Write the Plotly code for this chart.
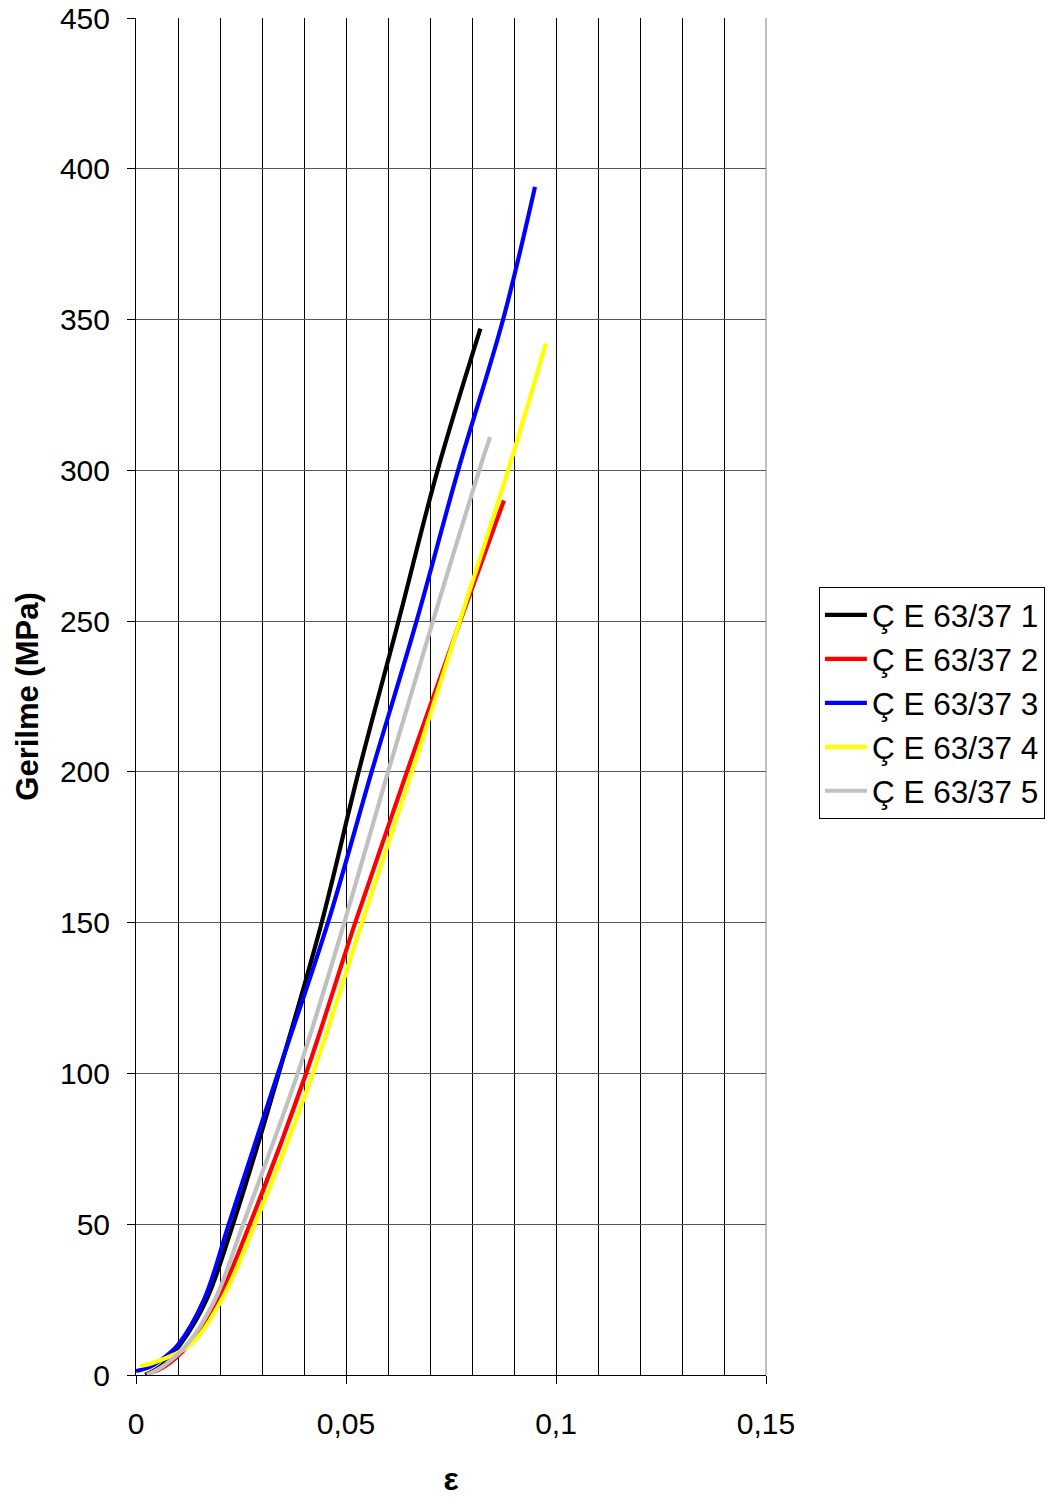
import plotly.graph_objects as go

# Strain (ε) and stress (MPa) readings for each specimen
x1 = [0.0022, 0.0060, 0.0105, 0.0168, 0.0231, 0.0287, 0.0340, 0.0442, 0.0530, 0.0625, 0.0718, 0.0820]
y1 = [0, 3, 10, 25, 50, 75, 100, 150, 200, 250, 300, 347]

x2 = [0.0030, 0.0070, 0.0125, 0.0195, 0.0271, 0.0405, 0.0522, 0.0645, 0.0772, 0.0876]
y2 = [0.5, 3, 10, 25, 50, 100, 150, 200, 250, 290]

x3 = [0.0000, 0.0033, 0.0060, 0.0100, 0.0162, 0.0221, 0.0338, 0.0457, 0.0561, 0.0668, 0.0767, 0.0874, 0.0950]
y3 = [1.3, 2.7, 5, 10, 25, 50, 100, 150, 200, 250, 300, 350, 394]

x4 = [0.0010, 0.0040, 0.0129, 0.0204, 0.0283, 0.0421, 0.0538, 0.0657, 0.0771, 0.0886, 0.0976]
y4 = [3, 4, 10, 25, 50, 100, 150, 200, 250, 300, 342]

x5 = [0.0026, 0.0065, 0.0121, 0.0188, 0.0255, 0.0385, 0.0496, 0.0600, 0.0707, 0.0817, 0.0843]
y5 = [0, 3, 10, 25, 50, 100, 150, 200, 250, 300, 311]

names = ["Ç E 63/37 1", "Ç E 63/37 2", "Ç E 63/37 3", "Ç E 63/37 4", "Ç E 63/37 5"]
colors = ["#000000", "#FF0000", "#0000FF", "#FFFF00", "#C0C0C0"]
xs = [x1, x2, x3, x4, x5]
ys = [y1, y2, y3, y4, y5]

FONT = "Liberation Sans, Arial, sans-serif"

fig = go.Figure()
for i, (xv, yv) in enumerate(zip(xs, ys)):
    fig.add_trace(go.Scatter(
        x=xv, y=yv, mode="lines", name=names[i],
        legendgroup=f"g{i}",
        line=dict(color=colors[i], width=4.2, shape="spline", smoothing=1.0),
    ))

fig.update_layout(
    width=1061, height=1501,
    margin=dict(l=136, r=295, t=18, b=126),
    paper_bgcolor="white", plot_bgcolor="white",
    separators=", ",
    font=dict(family=FONT, size=30, color="black"),
    showlegend=True,
    legend=dict(
        x=1.084, y=0.5807, xanchor="left", yanchor="top",
        bordercolor="black", borderwidth=1, bgcolor="white",
        font=dict(family=FONT, size=31.5, color="black"),
        tracegroupgap=0,
        itemwidth=42,
    ),
)

fig.update_xaxes(
    range=[0, 0.15], dtick=0.05, tick0=0, automargin=False,
    showgrid=True, gridcolor="black", gridwidth=1,
    minor=dict(dtick=0.01, showgrid=True, gridcolor="black", gridwidth=1),
    ticks="outside", ticklen=8, tickcolor="black",
    showline=True, linecolor="black", linewidth=1, mirror=False,
    zeroline=False,
    tickfont=dict(family=FONT, size=30),
    ticklabelstandoff=14,
    title=dict(text="<b>ε</b>", font=dict(family=FONT, size=32), standoff=28),
)

fig.update_yaxes(
    range=[0, 450], dtick=50, tick0=0, automargin=False,
    showgrid=True, gridcolor="#555555", gridwidth=1,
    ticks="outside", ticklen=8, tickcolor="black",
    showline=True, linecolor="black", linewidth=1,
    zeroline=False,
    tickfont=dict(family=FONT, size=30),
    ticklabelstandoff=11,
    title=dict(text="<b>Gerilme (MPa)</b>", font=dict(family=FONT, size=31), standoff=12),
)

# right border of plotting area
fig.add_shape(type="line", xref="paper", yref="paper", x0=1, x1=1, y0=0, y1=1,
              line=dict(color="#808080", width=1))

fig.write_html("out.html")
